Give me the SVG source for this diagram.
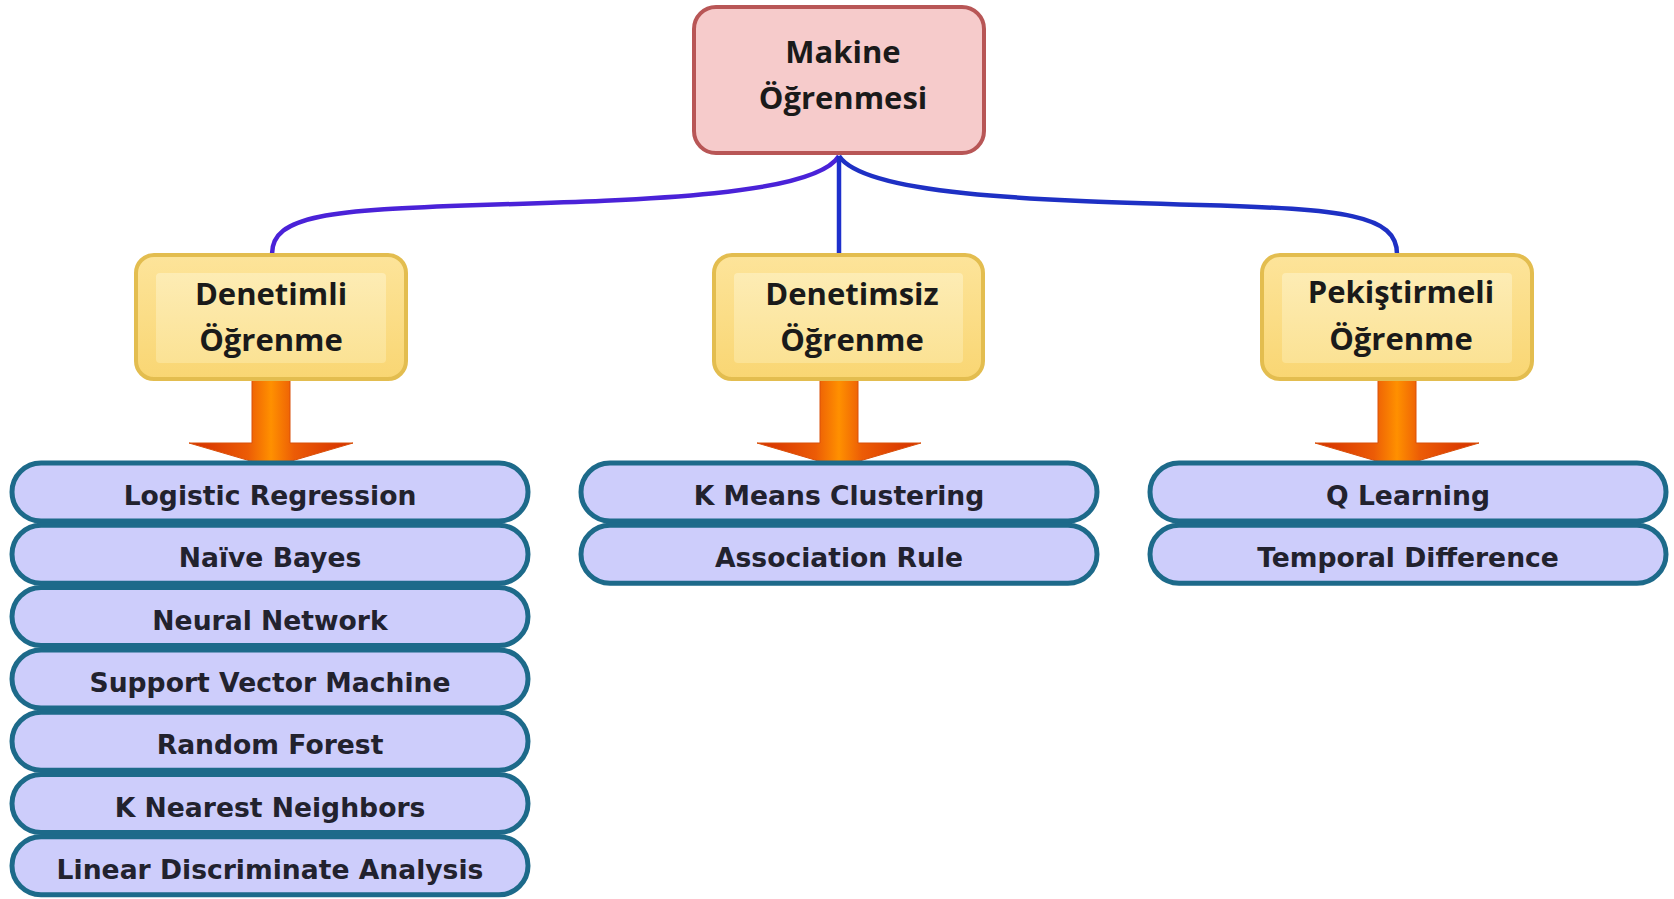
<svg xmlns="http://www.w3.org/2000/svg" width="1674" height="899" viewBox="0 0 1674 899">
<defs>
<linearGradient id="yel" x1="0" y1="0" x2="0" y2="1">
<stop offset="0" stop-color="#fde49a"/>
<stop offset="1" stop-color="#f9d673"/>
</linearGradient>
<linearGradient id="yelIn" x1="0" y1="0" x2="0" y2="1">
<stop offset="0" stop-color="#fdecb4"/>
<stop offset="1" stop-color="#fbe294"/>
</linearGradient>
<linearGradient id="arr" x1="0" y1="0" x2="1" y2="0">
<stop offset="0" stop-color="#d42e00"/>
<stop offset="0.36" stop-color="#ec5c06"/>
<stop offset="0.5" stop-color="#ff9000"/>
<stop offset="0.64" stop-color="#ec5c06"/>
<stop offset="1" stop-color="#d42e00"/>
</linearGradient>
<style>
.root{fill:#f6cbcb;stroke:#b85656;stroke-width:4}
.cat{fill:url(#yel);stroke:#e3bd4f;stroke-width:4}
.catIn{fill:url(#yelIn)}
.head{font-family:"Open Sans","Liberation Sans",sans-serif;font-weight:700;font-size:31px;fill:#1a1a1a;text-anchor:middle}
.pill{fill:#cdcdfb;stroke:#1d6a8a;stroke-width:5}
.lbl{font-family:"DejaVu Sans",sans-serif;font-weight:700;font-size:26.6px;fill:#22222e;text-anchor:middle}
.arrow{fill:url(#arr);stroke:#d9500a;stroke-width:1}
.conn{fill:none;stroke-width:4.5}
</style>
</defs>
<rect width="1674" height="899" fill="#ffffff"/>

<g id="connectors">
<path class="conn" stroke="#4a22d8" d="M 839 156 C 815 195, 650 200, 480 205 C 330 210, 272 215, 272 254"/>
<path class="conn" stroke="#1e30cc" d="M 839 156 L 839 254"/>
<path class="conn" stroke="#1e30c4" d="M 839 156 C 865 195, 1030 200, 1200 205 C 1345 209, 1397 215, 1397 254"/>
</g>

<g id="arrows">
<path class="arrow" d="M 252 379 L 290 379 L 290 443 L 353 443 L 271 467 L 189 443 L 252 443 Z"/>
<path class="arrow" d="M 820 379 L 858 379 L 858 443 L 921 443 L 839 467 L 757 443 L 820 443 Z"/>
<path class="arrow" d="M 1378 379 L 1416 379 L 1416 443 L 1479 443 L 1397 467 L 1315 443 L 1378 443 Z"/>
</g>

<g id="node-root">
<rect class="root" x="694" y="7" width="290" height="146" rx="22"/>
<text class="head" x="843" y="63">Makine</text>
<text class="head" x="843" y="109">Öğrenmesi</text>
</g>

<g id="node-denetimli">
<rect class="cat" x="136" y="255" width="270" height="124" rx="18"/>
<rect class="catIn" x="156" y="273" width="230" height="90" rx="4"/>
<text class="head" x="271" y="305">Denetimli</text>
<text class="head" x="271" y="351">Öğrenme</text>
</g>

<g id="node-denetimsiz">
<rect class="cat" x="714" y="255" width="269" height="124" rx="18"/>
<rect class="catIn" x="734" y="273" width="229" height="90" rx="4"/>
<text class="head" x="852" y="305">Denetimsiz</text>
<text class="head" x="852" y="351">Öğrenme</text>
</g>

<g id="node-pekistirmeli">
<rect class="cat" x="1262" y="255" width="270" height="124" rx="18"/>
<rect class="catIn" x="1282" y="273" width="230" height="90" rx="4"/>
<text class="head" x="1401" y="303">Pekiştirmeli</text>
<text class="head" x="1401" y="350">Öğrenme</text>
</g>

<g id="leaf-logistic-regression"><rect class="pill" x="12" y="463" width="516" height="58" rx="29"/><text class="lbl" x="270" y="505">Logistic Regression</text></g>
<g id="leaf-naive-bayes"><rect class="pill" x="12" y="525.3" width="516" height="58" rx="29"/><text class="lbl" x="270" y="567.3">Naïve Bayes</text></g>
<g id="leaf-neural-network"><rect class="pill" x="12" y="587.6" width="516" height="58" rx="29"/><text class="lbl" x="270" y="629.6">Neural Network</text></g>
<g id="leaf-svm"><rect class="pill" x="12" y="649.9" width="516" height="58" rx="29"/><text class="lbl" x="270" y="691.9">Support Vector Machine</text></g>
<g id="leaf-random-forest"><rect class="pill" x="12" y="712.2" width="516" height="58" rx="29"/><text class="lbl" x="270" y="754.2">Random Forest</text></g>
<g id="leaf-knn"><rect class="pill" x="12" y="774.5" width="516" height="58" rx="29"/><text class="lbl" x="270" y="816.5">K Nearest Neighbors</text></g>
<g id="leaf-lda"><rect class="pill" x="12" y="836.8" width="516" height="58" rx="29"/><text class="lbl" x="270" y="878.8">Linear Discriminate Analysis</text></g>

<g id="leaf-kmeans"><rect class="pill" x="581" y="463" width="516" height="58" rx="29"/><text class="lbl" x="839" y="505">K Means Clustering</text></g>
<g id="leaf-association"><rect class="pill" x="581" y="525.3" width="516" height="58" rx="29"/><text class="lbl" x="839" y="567.3">Association Rule</text></g>

<g id="leaf-qlearning"><rect class="pill" x="1150" y="463" width="516" height="58" rx="29"/><text class="lbl" x="1408" y="505">Q Learning</text></g>
<g id="leaf-temporal"><rect class="pill" x="1150" y="525.3" width="516" height="58" rx="29"/><text class="lbl" x="1408" y="567.3">Temporal Difference</text></g>
</svg>
